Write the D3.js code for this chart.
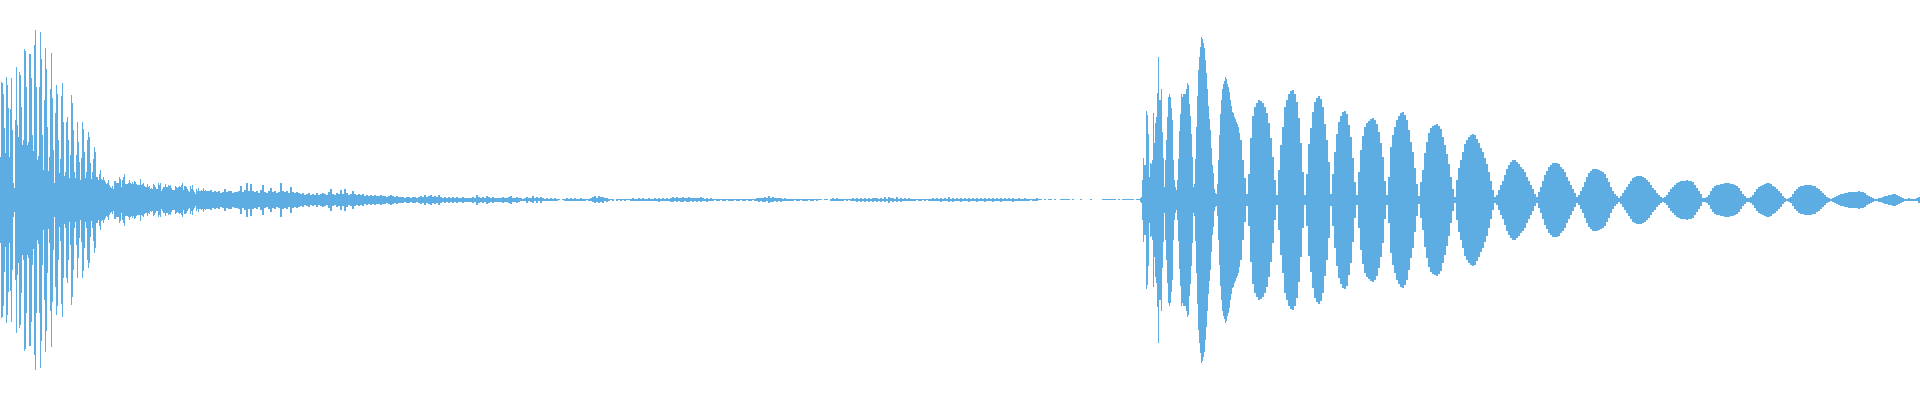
<!DOCTYPE html>
<html>
<head>
<meta charset="utf-8">
<script src="https://cdn.jsdelivr.net/npm/d3@7"></script>
<style>
  html, body { margin: 0; padding: 0; background: #ffffff; }
  svg { display: block; }
</style>
</head>
<body>
<div id="chart"></div>
<script>
// Waveform peak data (amplitude, symmetric around zero).
// Each segment: start time, bin width (time units), peak amplitudes per bin.
const attackStart = 0, attackStep = 1;
const attackPeaks = [
  43,118,117,106,72,47,123,115,92,43,
  91,122,70,17,12,80,133,75,63,128,
  125,93,55,60,151,149,113,55,58,146,
  146,122,65,49,155,170,113,40,44,113,
  168,141,65,30,100,152,131,73,29,43,
  111,147,102,50,17,87,115,106,60,27,
  41,104,117,78,24,28,78,83,60,22,
  45,105,97,70,28,22,45,78,58,38,
  20,42,78,71,48,22,28,60,68,63,
  37,21,28,41,53,48,23,23,20,26,
  30,21,20,23,20,18,16,17,20,15,
  13,12,14,11,19,19,17,17,17,23,
  21,13,20,23,26,16,16,16,17,20,
  17,16,18,16,19,18,16,15,15,15,
  21,15,16,17,14,13,13,16,13,14,
  11,12,11,16,15,13,11,11,17,15,
  17,9,11,13,13,16,13,13,15,14,
  15,12,10,10,10,14,13,12,13,14,
  13,15,17,10,14,14,13,11,9,8,
  14,11,15,10,8,6,11,9,12,9,
  9,10,9,12,9,10,9,9
];

const decayStart = 208, decayStep = 2;
const decayPeaks = [
  9,10,8,9,8,9,7,8,11,8,9,9,7,8,8,9,14,8,10,17,9,16,9,8,9,7,10,15,8,7,9,12,8,9,7,8,17,9,8,9,7,13,8,7,8,7,
  6,7,5,6,7,5,6,5,7,5, 6,7,6,5,8,11,6,5,7,6, 10,6,11,7,5,6,9,6,5,6, 5,6,4,5,4,5,4,5,4,4, 5,4,4,3,4,5,4,3,4,3,
  3,3,2,3,3,2,3,3,2,3, 4,3,5,3,4,5,3,4,3,5, 3,2,3,2,3,2,3,2,3,2, 2,3,2,2,2,2,3,2,5,3, 2,3,2,4,3,2,3,2,2,2, 2,3,2,2,3,4,2,2,3,2,
  1.5,1,1.5,3,1.5,2,3.5,1.5,3,1.5,
  3,1.5,1,1.5,1,1.5,1,1.5,1,0.5,
  0,0.5,1,1.5,1,1.5,1,1.5,1,1,
  1.5,1,1,0.5,1,1.5,2.5,3.5,2,3.5,
  2.5,3,1.5,2,1,0.5,1,0,1,0.5,
  1,0.5,1,0.5,0.5,1,1.5,1,1,1.5,
  1,1.5,1,1,1.5,1,1,1.5,1,2,
  1,1.5,1,1.5,1,2,2.5,1.5,2.5,1.5,
  2,2.5,1.5,2,2.5,1.5,2,1.5,2,1.5,
  2.5,1.5,1,2,1,1.5,1,0.5,1,1,
  0.5,1,1,0.5,1,1,1,0.5,1,1,
  0.5,1,1,0.5,1,1,0.5,1,1.5,2,
  1.5,2,2.5,1.5,3.5,2,2.5,1.5,2,1.5,
  2,1,1.5,1,1,1,1,0.5,1,1,
  0.5,1,1,1,0.5,1,1,0.5,1,0.5,
  0.5,0,0.5,0.5,0,1,1.5,1,1.5,1,
  1,1,0.5,1,0.5,1,1.5,1,2,1,
  2,1,2,1,2,1,2,1.5,2,1,
  2,1,2.5,1,3,1.5,2,1,2.5,1,
  2,1,1.5,1,1.5,1,1,1,0.5,1,
  1,0.5,1,0.5,1,1,1.5,1,1.5,1,
  2,1,1.5,1,2.5,1,2,1,1.5,1,
  2,1,1.5,1,2,1,1.5,1,2,1,
  1.5,1,2,1,1.5,1,2,1,1.5,1,
  2,1,1.5,1,1.5,1,2,1,1,1.5,
  1,1,1.5,1,1,0.5,1,1,1.5,0.5,
  0.5,0,0.5,0,0.5,0.5,0,0.5,0,0,
  0.5,0.5,0.5,0.5,0.5,0,0.5,0,0,0,
  0.5,0,0,0,0,0.5,0,0,0,0,
  0,0.5,0.5,0.5,0.5,0.5,0.5,0.5,0,0.5,
  0,0.5,0.5,0.5,0.5,0.5,0.5,0,0.5,0.5
];

const onsetStart = 1140, onsetStep = 1;
const onsetPeaks = [
  2,3,20,42,35,35,89,85,66,23,
  37,36,40,87,57,77,83,107,143,100,
  100,111,68,42,13,40,60,83,103,106,
  103,92,80,40,20,13,10,20,41,69,
  86,106,103,106,106,106,111,117,115,96,
  84,66,43,13,16,41,73,104,130,143,
  153,163,161,157,152,140,127,111,94,81,
  70,52,35,27,11,7,6,16,40,65,
  86,100,111,116,119,123,121,116,113,108,
  100,94,88,87,83,81,78,76,73,67
];

const ringStart = 1240, ringStep = 2;
const ringPeaks = [
  60,40,22,6,
  26,62,84,93,97,100,99,97,93,87,77,62,43,20,5,
  30,55,73,93,100,106,109,110,106,98,82,57,28,5,
  26,56,72,88,98,102,104,101,93,76,60,38,6,
  26,48,66,78,84,88,89,86,75,63,42,18,5,
  28,50,64,73,77,79,81,82,80,76,68,57,43,19,5,
  23,53,65,73,80,84,87,88,85,80,70,58,48,32,16,4,
  18,30,47,58,67,72,74,75,76,74,71,63,55,46,36,23,11,3,
  20,32,40,48,56,60,63,65,66,65,61,57,52,48,42,36,28,19,10,3,
  5,10,15,19,25,31,35,38,40,40,38,36,33,31,28,23,19,15,11,6,3,
  8,13,19,25,29,33,35,37,37,37,36,33,31,28,23,19,15,11,7,3,
  5,9,13,18,23,27,29,31,31,31,30,29,28,26,22,18,13,9,6,4,2,
  4,7,10,13,16,19,22,23,24,24,24,23,22,20,18,15,12,10,7,5,3,2,
  3,5,8,11,13,15,17,18,19,19,19,20,19,19,18,15,12,9,6,2,
  2,3,5,9,12,14,15,15,16,16,17,17,17,16,16,15,14,12,9,6,4,2,
  2,3,5,8,11,13,14,15,16,17,17,16,14,13,11,9,7,4,2,1,
  2,3,6,9,11,13,14,14,15,15,15,15,14,14,12,11,9,7,5,3,2,
  1,2,3,4,5,6,6,7,7,8,8,8,8,8,9,8,8,7,5,4,3,2,1,
  1,2,2,3,4,4,5,5,6,6,5,4,3,2,
  1,1,1.5,1,1,1,1.5,3
];

const duration = 1920;          // total time units
const ampMax = 200;             // amplitude full scale
const waveColor = "#5dade2";

const W = 1920, H = 400;

const segments = [
  { start: attackStart, step: attackStep, peaks: attackPeaks },
  { start: decayStart,  step: decayStep,  peaks: decayPeaks },
  { start: onsetStart,  step: onsetStep,  peaks: onsetPeaks },
  { start: ringStart,   step: ringStep,   peaks: ringPeaks }
];

const bins = segments.flatMap(s =>
  s.peaks.map((a, i) => ({ t: s.start + i * s.step, dt: s.step, a }))
);

const x = d3.scaleLinear().domain([0, duration]).range([0, W]);
const y = d3.scaleLinear().domain([-ampMax, ampMax]).range([H - 0.5, -0.5]);

const svg = d3.select("#chart").append("svg")
  .attr("width", W).attr("height", H)
  .attr("viewBox", `0 0 ${W} ${H}`);

svg.append("rect").attr("width", W).attr("height", H).attr("fill", "#ffffff");

svg.append("g")
  .attr("fill", waveColor)
  .attr("shape-rendering", "crispEdges")
  .selectAll("rect")
  .data(bins.filter(d => d.a > 0))
  .join("rect")
  .attr("x", d => x(d.t))
  .attr("width", d => x(d.t + d.dt) - x(d.t))
  .attr("y", d => y(d.a))
  .attr("height", d => y(-d.a) - y(d.a));
</script>
</body>
</html>
